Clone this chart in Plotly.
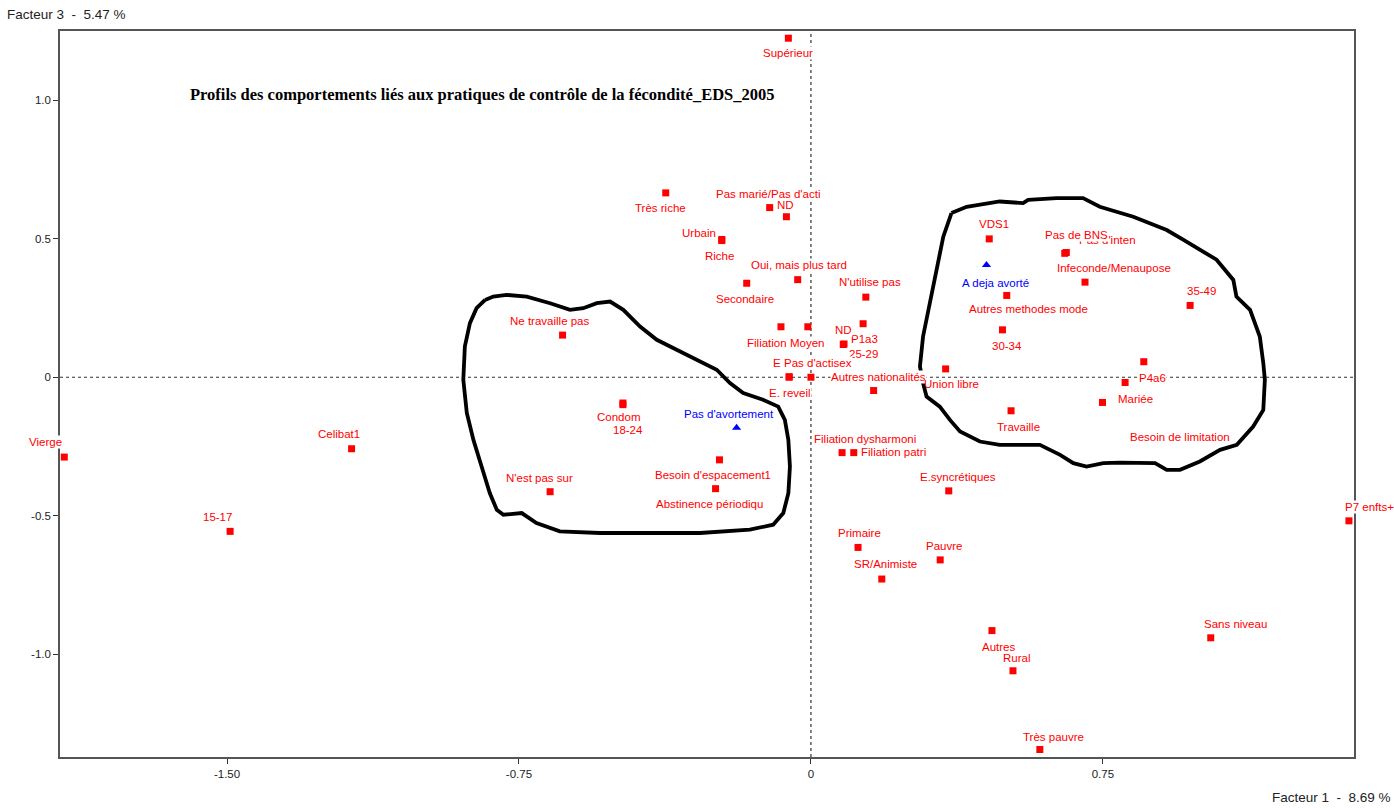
import plotly.graph_objects as go

# ---- Data (factor coordinates) ----
mod_labels = [
    "Supérieur", "Très riche", "Pas marié/Pas d'acti", "ND", "Urbain", "Riche",
    "Oui, mais plus tard", "Secondaire", "N'utilise pas", "Filiation", "Moyen",
    "25-29", "P1a3", "ND", "E", "E. reveil", "Pas d'actisex", "Autres nationalités",
    "Union libre", "VDS1", "Pas d'inten", "Pas de BNS", "Infeconde/Menaupose", "35-49",
    "Autres methodes mode", "30-34", "P4a6", "Mariée", "Besoin de limitation",
    "Travaille", "Filiation patri", "Filiation dysharmoni", "E.syncrétiques",
    "Primaire", "Pauvre", "SR/Animiste", "Rural", "Autres", "Sans niveau",
    "Très pauvre", "P7 enfts+", "Ne travaille pas", "18-24", "Condom",
    "Besoin d'espacement1", "N'est pas sur", "Abstinence périodiqu", "Vierge",
    "Celibat1", "15-17",
]
mod_f1 = [
    -0.058, -0.373, -0.106, -0.063, -0.229, -0.229,
    -0.034, -0.165, 0.141, -0.077, -0.008,
    0.085, 0.134, 0.083, -0.056, -0.056, 0.000, 0.161,
    0.346, 0.458, 0.656, 0.652, 0.704, 0.974,
    0.503, 0.492, 0.855, 0.807, 0.749,
    0.514, 0.110, 0.080, 0.354,
    0.121, 0.332, 0.182, 0.519, 0.465, 1.027,
    0.588, 1.382, -0.638, -0.483, -0.483,
    -0.235, -0.670, -0.245, -1.918,
    -1.180, -1.492,
]
mod_f3 = [
    1.223, 0.665, 0.612, 0.579, 0.497, 0.493,
    0.352, 0.339, 0.289, 0.182, 0.182,
    0.120, 0.193, 0.118, 0.002, 0.000, 0.000, -0.048,
    0.030, 0.499, 0.450, 0.447, 0.343, 0.259,
    0.295, 0.171, 0.056, -0.019, -0.091,
    -0.121, -0.272, -0.272, -0.410,
    -0.614, -0.659, -0.728, -1.059, -0.914, -0.940,
    -1.343, -0.518, 0.152, -0.099, -0.093,
    -0.298, -0.413, -0.402, -0.288,
    -0.258, -0.556,
]

sup_labels = ["A deja avorté", "Pas d'avortement"]
sup_f1 = [0.451, -0.191]
sup_f3 = [0.405, -0.182]

# hand-drawn contours (in factor units)
left_f1 = [-0.837, -0.816, -0.782, -0.730, -0.670, -0.619, -0.585, -0.550, -0.516, -0.482,
           -0.439, -0.396, -0.345, -0.294, -0.242, -0.208, -0.174, -0.123, -0.084, -0.067,
           -0.058, -0.054, -0.058, -0.071, -0.097, -0.157, -0.285, -0.414, -0.542, -0.645,
           -0.705, -0.743, -0.790, -0.807, -0.825, -0.846, -0.867, -0.884, -0.893, -0.889,
           -0.876, -0.859, -0.837]
left_f3 = [0.279, 0.291, 0.297, 0.291, 0.267, 0.243, 0.249, 0.267, 0.273, 0.243,
           0.183, 0.135, 0.099, 0.063, 0.027, -0.021, -0.057, -0.081, -0.106, -0.154,
           -0.226, -0.322, -0.418, -0.490, -0.532, -0.550, -0.562, -0.562, -0.562, -0.556,
           -0.526, -0.490, -0.496, -0.478, -0.418, -0.322, -0.226, -0.129, -0.009, 0.111,
           0.195, 0.249, 0.279]
right_f1 = [0.361, 0.400, 0.485, 0.545, 0.558, 0.631, 0.699, 0.742, 0.828, 0.914,
            0.956, 0.999, 1.042, 1.085, 1.093, 1.128, 1.153, 1.162, 1.166, 1.162,
            1.136, 1.094, 1.051, 0.999, 0.948, 0.914, 0.884, 0.794, 0.751, 0.708,
            0.674, 0.640, 0.588, 0.485, 0.434, 0.383, 0.357, 0.331, 0.297, 0.288,
            0.280, 0.288, 0.306, 0.323, 0.340, 0.361]
right_f3 = [0.592, 0.615, 0.634, 0.628, 0.640, 0.646, 0.646, 0.615, 0.579, 0.531,
            0.496, 0.460, 0.424, 0.351, 0.291, 0.243, 0.147, 0.051, -0.009, -0.118,
            -0.178, -0.244, -0.262, -0.304, -0.334, -0.334, -0.310, -0.308, -0.310, -0.322,
            -0.310, -0.280, -0.244, -0.244, -0.232, -0.196, -0.154, -0.106, -0.070, -0.021,
            0.039, 0.147, 0.267, 0.387, 0.507, 0.592]

x_ticks = [-1.5, -0.75, 0, 0.75]
x_tick_text = ["-1.50", "-0.75", "0", "0.75"]
y_ticks = [1.0, 0.5, 0, -0.5, -1.0]
y_tick_text = ["1.0", "0.5", "0", "-0.5", "-1.0"]

# ---- label placement offsets (pixels: right, down) ----
mod_off = [
    (0, 15), (-5, 15), (-2, -14), (-1, -12), (-23, -6), (-2, 15),
    (1, -15), (-2, 16), (4, -15), (-14, 16), (0, 16),
    (19, 10), (1, 15), (0, -15), (-12, -14), (1, 16), (7, -14), (5, -14),
    (6, 15), (5, -15), (41, -12), (12, -18), (29, -14), (11, -14),
    (22, 14), (5, 16), (9, 16), (10, 16), (77, 35),
    (7, 16), (40, -1), (23, -14), (9, -14),
    (1, -14), (4, -14), (4, -15), (4, -13), (7, 16), (25, -14),
    (14, -13), (21, -14), (-13, -14), (5, 25), (-4, 14),
    (-6, 15), (-11, -14), (-6, 15), (-19, -15),
    (-13, -15), (-13, -14),
]
sup_off = [(9, 18), (-8, -14)]

RED = "#ff0000"
BLUE = "#0000ff"
LABEL_FONT = "Liberation Sans, Arial, sans-serif"

fig = go.Figure()

# zero reference lines
fig.add_shape(type="line", xref="x", yref="paper", x0=0, x1=0, y0=0, y1=1,
              line=dict(color="#333333", width=1.2, dash="3px,3px"), layer="below")
fig.add_shape(type="line", xref="paper", yref="y", x0=0, x1=1, y0=0, y1=0,
              line=dict(color="#333333", width=1.2, dash="3px,3px"), layer="below")

for cx, cy in ((left_f1, left_f3), (right_f1, right_f3)):
    fig.add_trace(go.Scatter(x=cx, y=cy, mode="lines",
                             line=dict(color="black", width=3.8),
                             hoverinfo="skip", showlegend=False))

fig.add_trace(go.Scatter(x=mod_f1, y=mod_f3, mode="markers", text=mod_labels,
                         marker=dict(symbol="square", size=7, color=RED),
                         showlegend=False, hoverinfo="text"))
fig.add_trace(go.Scatter(x=sup_f1, y=sup_f3, mode="markers", text=sup_labels,
                         marker=dict(symbol="triangle-up", size=8, color=BLUE),
                         showlegend=False, hoverinfo="text"))

annotations = []
for lab, xv, yv, (dx, dy) in zip(mod_labels, mod_f1, mod_f3, mod_off):
    annotations.append(dict(x=xv, y=yv, xref="x", yref="y", text=lab, showarrow=False,
                            xanchor="center", yanchor="middle",
                            xshift=dx, yshift=-dy,
                            bgcolor="rgba(0,0,0,0)" if lab == "Union libre" else "white",
                            borderpad=0,
                            font=dict(family=LABEL_FONT, size=11.5, color=RED)))
for lab, xv, yv, (dx, dy) in zip(sup_labels, sup_f1, sup_f3, sup_off):
    annotations.append(dict(x=xv, y=yv, xref="x", yref="y", text=lab, showarrow=False,
                            xanchor="center", yanchor="middle",
                            xshift=dx, yshift=-dy, bgcolor="white", borderpad=0,
                            font=dict(family=LABEL_FONT, size=11.5, color=BLUE)))

annotations.append(dict(
    text="<b>Profils des comportements liés aux pratiques de contrôle de la fécondité_EDS_2005</b>",
    xref="paper", yref="paper", x=0.326, y=0.912, xanchor="center", yanchor="middle",
    showarrow=False,
    font=dict(family="Liberation Serif, Times New Roman, serif", size=16.5, color="black")))
annotations.append(dict(text="Facteur 3  -  5.47 %", xref="paper", yref="paper",
                        x=-0.0425, y=1.0234, xanchor="left", yanchor="middle",
                        showarrow=False,
                        font=dict(family=LABEL_FONT, size=13.5, color="#222222")))
annotations.append(dict(text="Facteur 1  -  8.69 %", xref="paper", yref="paper",
                        x=1.0301, y=-0.0551, xanchor="right", yanchor="middle",
                        showarrow=False,
                        font=dict(family=LABEL_FONT, size=13.5, color="#222222")))

axis_common = dict(showgrid=False, zeroline=False, showline=True, mirror=True,
                   linecolor="#555555", linewidth=1.6, ticks="outside", ticklen=5,
                   tickcolor="#333333", tickfont=dict(family=LABEL_FONT, size=11.5, color="#222222"))

fig.update_layout(
    width=1394, height=808,
    margin=dict(l=60, r=40, t=31, b=51),
    paper_bgcolor="white", plot_bgcolor="white",
    xaxis=dict(range=[-1.929, 1.395], tickvals=x_ticks, ticktext=x_tick_text, **axis_common),
    yaxis=dict(range=[-1.370, 1.249], tickvals=y_ticks, ticktext=y_tick_text, **axis_common),
    annotations=annotations,
)

fig.write_html("out.html",
               config={"displayModeBar": False},
               post_script="document.body.style.margin='0px';"
                           "document.body.style.overflow='hidden';")
